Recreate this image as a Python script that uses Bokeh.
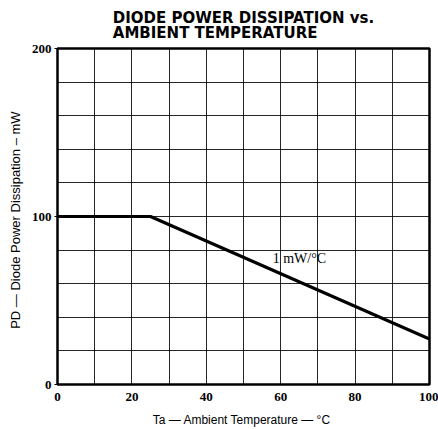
from bokeh.plotting import figure
from bokeh.models import FixedTicker, Title, Label
from bokeh.embed import file_html
from bokeh.resources import INLINE

# data
temp = [0, 25, 100]          # ambient temperature, degC
power = [100, 100, 27]       # diode power dissipation, mW
x_ticks = [0, 20, 40, 60, 80, 100]
y_ticks = [0, 100, 200]
x_grid = [0, 10, 20, 30, 40, 50, 60, 70, 80, 90, 100]
y_grid = [0, 20, 40, 60, 80, 100, 120, 140, 160, 180, 200]
title_lines = ["DIODE POWER DISSIPATION vs.", "AMBIENT TEMPERATURE"]
x_label = "Ta \u2014 Ambient  Temperature \u2014 \u00b0C"
y_label = "PD \u2014 Diode  Power  Dissipation \u2013 mW"
annot = "1  mW/\u00b0C"
annot_pos = (65.5, 75)

p = figure(width=438, height=429, x_range=(0, 100), y_range=(0, 200),
           output_backend="svg", toolbar_location=None,
           min_border_left=57, min_border_right=9, min_border_top=0, min_border_bottom=0)

p.title = None
p.add_layout(Title(text="\n".join(title_lines), align="center", text_font="DejaVu Sans",
                   text_font_size="15px", text_font_style="bold",
                   text_line_height=0.85, text_color="black", standoff=13), "above")

p.line(temp, power, line_color="black", line_width=3.2)
p.add_layout(Label(x=annot_pos[0], y=annot_pos[1], text=annot, text_align="center",
                   text_baseline="middle", text_font="Liberation Serif",
                   text_font_size="14px", text_color="black"))

p.xaxis.ticker = FixedTicker(ticks=x_ticks)
p.yaxis.ticker = FixedTicker(ticks=y_ticks)
p.xgrid.ticker = FixedTicker(ticks=x_grid)
p.ygrid.ticker = FixedTicker(ticks=y_grid)
for g in (p.xgrid, p.ygrid):
    g.grid_line_color = "black"
    g.grid_line_width = 1
    g.grid_line_alpha = 0.85

for ax in (p.xaxis, p.yaxis):
    ax.axis_line_color = None
    ax.minor_tick_line_color = None
    ax.major_label_text_font = "Liberation Serif"
    ax.major_label_text_font_style = "bold"
    ax.major_label_text_font_size = "13px"
    ax.major_label_text_color = "black"
    ax.axis_label_text_font = "Liberation Sans"
    ax.axis_label_text_font_style = "normal"
    ax.axis_label_text_color = "black"
p.xaxis.axis_label_text_font_size = "12px"
p.yaxis.axis_label_text_font_size = "13px"
p.xaxis.major_tick_line_color = None
p.yaxis.major_tick_line_color = "black"
p.yaxis.major_tick_out = 3
p.yaxis.major_tick_in = 0
p.xaxis.major_label_standoff = 2
p.yaxis.major_label_standoff = 3
p.xaxis.axis_label = x_label
p.yaxis.axis_label = y_label
p.xaxis.axis_label_standoff = 9
p.yaxis.axis_label_standoff = 6

p.outline_line_color = "black"
p.outline_line_width = 2.5
p.outline_line_alpha = 1
p.background_fill_color = "white"
p.border_fill_color = "white"

open("out.html", "w").write(file_html(p, INLINE))
